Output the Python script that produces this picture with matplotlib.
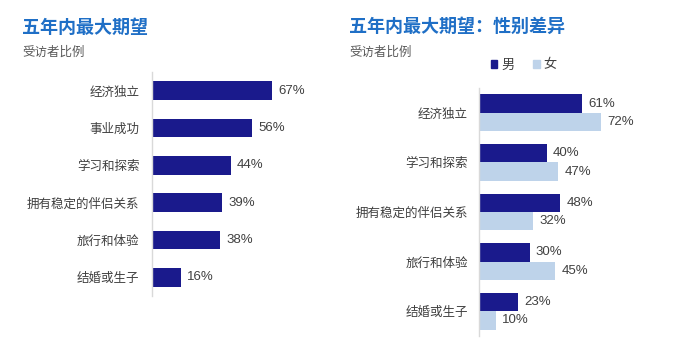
import matplotlib.pyplot as plt
from matplotlib.patches import Patch

plt.rcParams['font.family'] = ['Noto Sans CJK SC', 'DejaVu Sans']

# Data

left_cats = ['经济独立', '事业成功', '学习和探索', '拥有稳定的伴侣关系', '旅行和体验', '结婚或生子']
left_vals = [67, 56, 44, 39, 38, 16]

right_cats = ['经济独立', '学习和探索', '拥有稳定的伴侣关系', '旅行和体验', '结婚或生子']
male_vals = [61, 40, 48, 30, 23]
female_vals = [72, 47, 32, 45, 10]

NAVY = '#1a1a8c'
LIGHT = '#bed3ea'
TITLE = '#1f6fc6'
GRAY = '#595959'
TXT = '#404040'
NUM_FONT = ['Liberation Sans', 'DejaVu Sans']

W, H = 692, 348
fig = plt.figure(figsize=(W / 100, H / 100), dpi=100)


def px_axes(x0, y_top, w, h):
    return fig.add_axes([x0 / W, (H - y_top - h) / H, w / W, h / H])


def style(ax):
    for s in ['top', 'right', 'bottom']:
        ax.spines[s].set_visible(False)
    ax.spines['left'].set_color('#d9d9d9')
    ax.spines['left'].set_linewidth(1)
    ax.set_xticks([])
    ax.tick_params(axis='y', length=0, pad=9, labelsize=9, labelcolor=TXT)
    ax.set_xlim(0, 100)


def value_label(ax, v, yy):
    ax.annotate(f'{v}%', (v, yy), xytext=(4.5, 0), textcoords='offset points',
                va='center', ha='left', fontsize=9.5, color=TXT, family=NUM_FONT)


# left chart
ax1 = px_axes(152, 72, 179, 224)
y1 = list(range(len(left_cats)))
ax1.barh(y1, left_vals, height=0.5, color=NAVY)
ax1.set_yticks(y1)
ax1.set_yticklabels(left_cats)
ax1.set_ylim(len(left_cats) - 0.5, -0.5)
style(ax1)
for yy, v in zip(y1, left_vals):
    value_label(ax1, v, yy)

# right chart
ax2 = px_axes(479, 88, 169, 248)
y2 = list(range(len(right_cats)))
bh = 0.37
ax2.barh([y - bh / 2 for y in y2], male_vals, height=bh, color=NAVY)
ax2.barh([y + bh / 2 for y in y2], female_vals, height=bh, color=LIGHT)
ax2.set_yticks(y2)
ax2.set_yticklabels(right_cats)
ax2.set_ylim(len(right_cats) - 0.5, -0.5)
style(ax2)
ax2.tick_params(axis='y', pad=8)
for yy, m, f in zip(y2, male_vals, female_vals):
    value_label(ax2, m, yy - bh / 2)
    value_label(ax2, f, yy + bh / 2)

# titles
fig.text(22 / W, 1 - 27 / H, '五年内最大期望', fontsize=13, fontweight='bold',
         color=TITLE, va='center', ha='left')
fig.text(22 / W, 1 - 52 / H, '受访者比例', fontsize=9, color=GRAY, va='center', ha='left')
fig.text(349 / W, 1 - 26 / H, '五年内最大期望：性别差异', fontsize=13, fontweight='bold',
         color=TITLE, va='center', ha='left')
fig.text(349 / W, 1 - 52 / H, '受访者比例', fontsize=9, color=GRAY, va='center', ha='left')

handles = [Patch(color=NAVY, label='男'), Patch(color=LIGHT, label='女')]
fig.legend(handles=handles, loc='center left', bbox_to_anchor=(479 / W, 1 - 65 / H),
           ncol=2, frameon=False, fontsize=9.5, handlelength=0.5, handleheight=0.5,
           handletextpad=0.3, columnspacing=1.4, labelcolor=TXT)

fig.savefig('out.png', dpi=100)
